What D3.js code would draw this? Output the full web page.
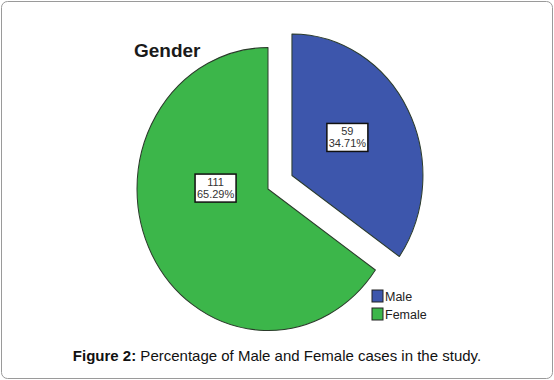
<html>
<head>
  <meta charset="utf-8" />
  <script src="https://cdnjs.cloudflare.com/ajax/libs/d3/7.8.5/d3.min.js"></script>
  <style>
    body { margin: 0; background: #fff; }
    text { font-family: "Liberation Sans", Arial, sans-serif; }
  </style>
</head>
<body>
  <svg></svg>
  <script>
    var categories = ["Male", "Female"]
    var counts = [59, 111]
    var percents = ["34.71%", "65.29%"]
    var colors = ["#3d56ac", "#3cb64a"]

    var svg = d3.select("svg").attr("width", 554).attr("height", 380)

    svg.append("rect")
      .attr("x", 1.5).attr("y", 1.5)
      .attr("width", 551).attr("height", 377)
      .attr("rx", 6)
      .style("fill", "#fff")
      .style("stroke", "#9a9a9a")
      .style("stroke-width", 1)

    var r = 131
    var explode = 27
    var pieLayout = d3.pie().sort(null).value(d => d)
    var arcs = pieLayout(counts)
    var arc = d3.arc().innerRadius(0).outerRadius(r)
    var labelArc = d3.arc().innerRadius(r * 0.46).outerRadius(r * 0.46)
    // small nudges so the boxes sit where the original tool put them
    var labelNudge = [[2, -8], [1, -31]]

    var pie = svg.append("g")
      .attr("transform", "translate(268,189) scale(1,1.08)")

    var slices = pie.selectAll("g.slice")
      .data(arcs)
      .enter()
      .append("g")
        .attr("class", "slice")
        .attr("transform", (d, i) => {
          var a = (d.startAngle + d.endAngle) / 2
          var off = i === 0 ? explode : 0
          return "translate(" + (Math.sin(a) * off) + "," + (-Math.cos(a) * off) + ")"
        })

    slices.append("path")
      .attr("d", arc)
      .style("fill", (d, i) => colors[i])
      .style("stroke", "#2a3a2a")
      .style("stroke-width", 1)
      .style("stroke-linejoin", "round")

    // labels drawn outside the scaled group so text is not stretched
    arcs.forEach((d, i) => {
      var a = (d.startAngle + d.endAngle) / 2
      var off = i === 0 ? explode : 0
      var c = labelArc.centroid(d)
      var cx = 268 + Math.sin(a) * off + c[0] + labelNudge[i][0]
      var cy = 189 + (-Math.cos(a) * off + c[1]) * 1.08 + labelNudge[i][1]
      var g = svg.append("g").attr("transform", "translate(" + cx + "," + cy + ")")
      g.append("rect")
        .attr("x", -20.5).attr("y", -14)
        .attr("width", 41).attr("height", 28)
        .style("fill", "#fff")
        .style("stroke", "#111")
        .style("stroke-width", 1.5)
      g.append("text")
        .attr("text-anchor", "middle")
        .attr("y", -2)
        .style("font-size", "11px")
        .style("fill", "#333")
        .text(counts[i])
      g.append("text")
        .attr("text-anchor", "middle")
        .attr("y", 10)
        .style("font-size", "11px")
        .style("fill", "#333")
        .text(percents[i])
    })

    svg.append("text")
      .attr("x", 134).attr("y", 57)
      .style("font-size", "19px")
      .style("font-weight", "bold")
      .style("fill", "#1a1a1a")
      .text("Gender")

    var legend = svg.selectAll("g.legend")
      .data(categories)
      .enter()
      .append("g")
        .attr("class", "legend")
        .attr("transform", (d, i) => "translate(372," + (290 + i * 18) + ")")

    legend.append("rect")
      .attr("width", 11).attr("height", 12)
      .style("fill", (d, i) => colors[i])
      .style("stroke", "#222")
      .style("stroke-width", 1)

    legend.append("text")
      .attr("x", 13).attr("y", 11)
      .style("font-family", "'Liberation Sans Narrow', 'Arial Narrow', sans-serif")
      .style("font-size", "12.5px")
      .style("fill", "#222")
      .text(d => d)

    var caption = svg.append("text")
      .attr("x", 277).attr("y", 361)
      .attr("text-anchor", "middle")
      .style("font-size", "15px")
      .style("fill", "#111")
    caption.append("tspan").style("font-weight", "bold").text("Figure 2:")
    caption.append("tspan").text(" Percentage of Male and Female cases in the study.")
  </script>
</body>
</html>
